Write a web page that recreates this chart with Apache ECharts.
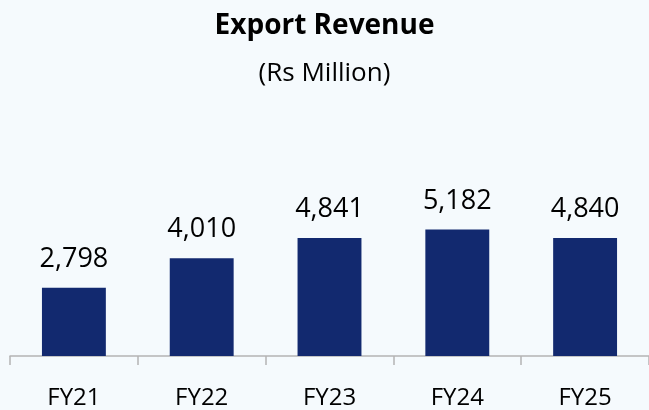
<!DOCTYPE html>
<html>
<head>
<meta charset="utf-8">
<style>
  html, body { margin: 0; padding: 0; background: #f5fafd; }
  #chart { width: 649px; height: 410px; }
</style>
<script src="https://cdn.jsdelivr.net/npm/echarts@6/dist/echarts.min.js"></script>
</head>
<body>
<div id="chart"></div>
<script>
const categories = ["FY21", "FY22", "FY23", "FY24", "FY25"];
const exportRevenue = [2798, 4010, 4841, 5182, 4840];

const FONT = "'Open Sans', 'Noto Sans', sans-serif";

const chart = echarts.init(document.getElementById("chart"), null, { renderer: "canvas" });

chart.setOption({
  backgroundColor: "#f5fafd",
  animation: false,
  title: [
    {
      text: "Export Revenue",
      left: "center",
      top: 7,
      textStyle: { fontFamily: FONT, fontSize: 28, fontWeight: "bold", color: "#000" },
    },
    {
      text: "(Rs Million)",
      left: "center",
      top: 56,
      textStyle: { fontFamily: FONT, fontSize: 26, fontWeight: "normal", color: "#000" },
    },
  ],
  grid: {
    left: 10,
    right: 0,
    top: 209.6,
    bottom: 51,
    containLabel: false,
  },
  xAxis: {
    type: "category",
    data: categories,
    axisLine: { lineStyle: { color: "#b4b4b4", width: 1.5 } },
    axisTick: { show: true, length: 9, lineStyle: { color: "#b4b4b4", width: 1.5 } },
    axisLabel: {
      color: "#000",
      fontFamily: FONT,
      fontSize: 24,
      margin: 30,
    },
  },
  yAxis: {
    type: "value",
    min: 0,
    max: 6000,
    show: false,
    splitLine: { show: false },
  },
  series: [
    {
      type: "bar",
      data: exportRevenue,
      barWidth: "50%",
      itemStyle: { color: "#12296f" },
      label: {
        show: true,
        position: "top",
        distance: 15,
        color: "#000",
        fontFamily: FONT,
        fontSize: 27,
        formatter: (p) => p.value.toLocaleString("en-US"),
      },
    },
  ],
});
</script>
</body>
</html>
